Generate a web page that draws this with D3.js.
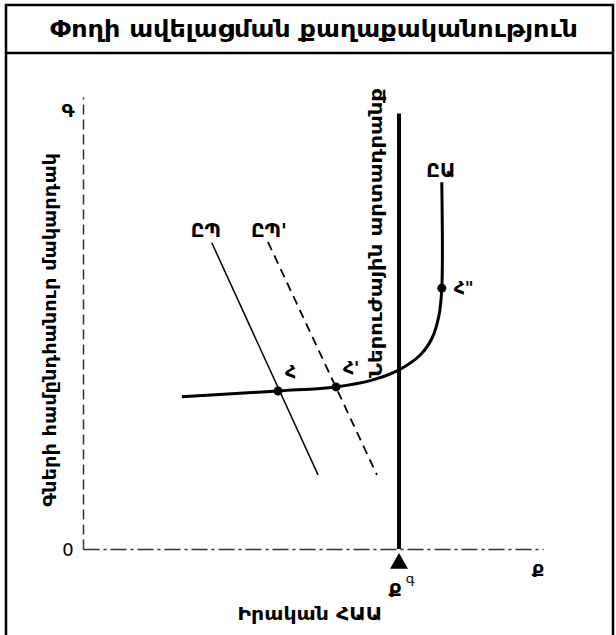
<!DOCTYPE html>
<html>
<head>
<meta charset="utf-8">
<script src="https://cdn.jsdelivr.net/npm/d3@7"></script>
<style>
  body { margin: 0; background: #fff; }
  text { font-family: "DejaVu Sans", sans-serif; fill: #000; }
</style>
</head>
<body>
<svg id="chart" width="616" height="635"></svg>
<script>
// chart text
var title = "Փողի ավելացման քաղաքականություն";
var yTitle = "Գների համընդհանուր մակարդակ";
var xTitle = "Իրական ՀԱԱ";
var potentialTitle = "Ներուժային արտադրանք";

// data, in abstract units 0..100 on both axes
var potentialX = 68.7;
var potentialTop = 97;
var adCurve = [[28.0, 68.2], [51.1, 16.5]];        // ԸՊ
var adShifted = [[40.2, 68.4], [63.9, 16.5]];      // ԸՊ'
var asCurve = [[21.5, 33.9], [42.4, 35.2], [55.0, 36.1], [62.8, 37.6], [68.7, 39.9],
               [73.3, 43.2], [75.9, 47.0], [77.4, 52.1], [78.0, 58.1], [78.0, 81.7]];  // ԸԱ
var eqPoints = [[42.4, 35.2, "Հ"], [55.0, 36.1, "Հ'"], [78.0, 58.1, "Հ\""]];

var svg = d3.select("#chart");

var x = d3.scaleLinear().domain([0, 100]).range([83, 543]);
var y = d3.scaleLinear().domain([0, 100]).range([549, 100]);

// frame
svg.append("rect").attr("x", 6).attr("y", 5).attr("width", 607).attr("height", 640)
  .attr("fill", "none").attr("stroke", "#000").attr("stroke-width", 2.5);
svg.append("line").attr("x1", 6).attr("x2", 613).attr("y1", 53).attr("y2", 53)
  .attr("stroke", "#000").attr("stroke-width", 2.5);
svg.append("text").attr("x", 314).attr("y", 37).attr("text-anchor", "middle")
  .attr("textLength", 528).attr("lengthAdjust", "spacingAndGlyphs")
  .style("font-size", "23px").style("font-weight", "bold").text(title);

// axes, no ticks
var gx = svg.append("g").attr("transform", "translate(0," + y(0) + ")")
  .call(d3.axisBottom(x).tickValues([]).tickSizeOuter(0));
gx.select(".domain").attr("stroke", "#333").attr("stroke-width", 1.5).attr("stroke-dasharray", "16,4,3,4");
var gy = svg.append("g").attr("transform", "translate(" + x(0) + ",0)")
  .call(d3.axisLeft(y.copy().range([549, 97])).tickValues([]).tickSizeOuter(0));
gy.select(".domain").attr("stroke", "#333").attr("stroke-width", 1.5).attr("stroke-dasharray", "10,5");

svg.append("text").attr("x", x(0) - 15).attr("y", y(0) + 7).attr("text-anchor", "middle")
  .style("font-size", "18px").text("0");
svg.append("text").attr("x", x(0) - 15).attr("y", 117).attr("text-anchor", "middle")
  .style("font-size", "18px").style("font-weight", "bold").text("Գ");
svg.append("text").attr("x", 538).attr("y", 577).attr("text-anchor", "middle")
  .style("font-size", "18px").style("font-weight", "bold").text("Ք");

svg.append("text").attr("transform", "translate(56,330) rotate(-90)").attr("text-anchor", "middle")
  .attr("textLength", 354).attr("lengthAdjust", "spacingAndGlyphs")
  .style("font-size", "18px").style("font-weight", "bold").text(yTitle);
svg.append("text").attr("x", 310).attr("y", 620).attr("text-anchor", "middle")
  .attr("textLength", 145).attr("lengthAdjust", "spacingAndGlyphs")
  .style("font-size", "18px").style("font-weight", "bold").text(xTitle);

// potential output line
svg.append("line")
  .attr("x1", x(potentialX)).attr("x2", x(potentialX))
  .attr("y1", y(potentialTop)).attr("y2", y(0))
  .attr("stroke", "#000").attr("stroke-width", 4);
svg.append("path")
  .attr("d", d3.symbol(d3.symbolTriangle, 140)())
  .attr("transform", "translate(" + x(potentialX) + "," + (y(0) + 14.5) + ")");
svg.append("text").attr("x", x(potentialX) - 4).attr("y", 597).attr("text-anchor", "middle")
  .style("font-size", "19px").style("font-weight", "bold").text("Ք");
svg.append("text").attr("x", x(potentialX) + 11).attr("y", 583).attr("text-anchor", "middle")
  .style("font-size", "13px").text("գ");
svg.append("text")
  .attr("transform", "translate(" + (x(potentialX) - 17) + "," + 233 + ") rotate(-90)")
  .attr("text-anchor", "middle")
  .attr("textLength", 290).attr("lengthAdjust", "spacingAndGlyphs")
  .style("font-size", "17px").style("font-weight", "bold").text(potentialTitle);

var line = d3.line().x(function(d) { return x(d[0]); }).y(function(d) { return y(d[1]); });

svg.append("path").datum(adCurve).attr("d", line)
  .attr("fill", "none").attr("stroke", "#000").attr("stroke-width", 1.5);
svg.append("path").datum(adShifted).attr("d", line)
  .attr("fill", "none").attr("stroke", "#000").attr("stroke-width", 1.8).attr("stroke-dasharray", "9,6");
svg.append("path").datum(asCurve).attr("d", line.curve(d3.curveCatmullRom.alpha(0.5)))
  .attr("fill", "none").attr("stroke", "#000").attr("stroke-width", 3);

svg.append("text").attr("x", x(adCurve[0][0]) - 6).attr("y", y(adCurve[0][1]) - 6).attr("text-anchor", "middle")
  .style("font-size", "19px").style("font-weight", "bold").text("ԸՊ");
svg.append("text").attr("x", x(adShifted[0][0]) + 1).attr("y", y(adShifted[0][1]) - 5).attr("text-anchor", "middle")
  .style("font-size", "19px").style("font-weight", "bold").text("ԸՊ'");
svg.append("text").attr("x", x(78) - 1).attr("y", 177).attr("text-anchor", "middle")
  .style("font-size", "19px").style("font-weight", "bold").text("ԸԱ");

svg.selectAll("circle.eq").data(eqPoints).enter().append("circle").attr("class", "eq")
  .attr("cx", function(d) { return x(d[0]); }).attr("cy", function(d) { return y(d[1]); })
  .attr("r", 4.5).attr("fill", "#000");
svg.selectAll("text.eq").data(eqPoints).enter().append("text").attr("class", "eq")
  .attr("x", function(d, i) { return x(d[0]) + (i == 2 ? 12 : 7); })
  .attr("y", function(d, i) { return y(d[1]) + (i == 2 ? 6 : -13); })
  .style("font-size", "17px").style("font-weight", "bold").text(function(d) { return d[2]; });
</script>
</body>
</html>
